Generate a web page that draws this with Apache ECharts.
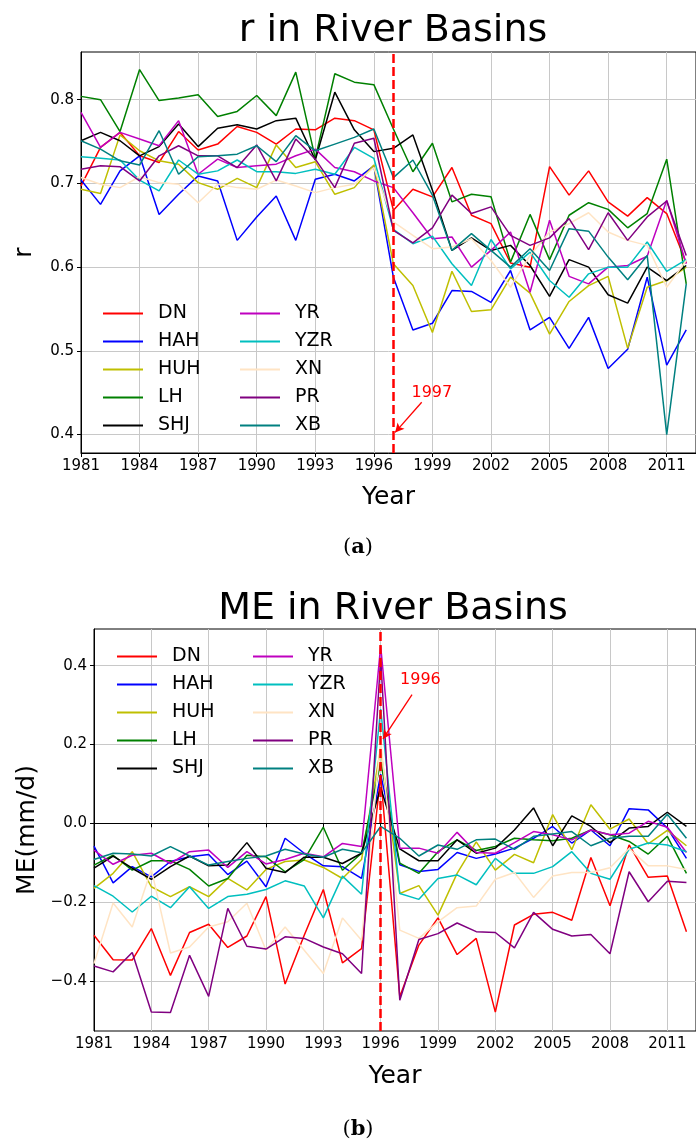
<!DOCTYPE html>
<html>
<head>
<meta charset="utf-8">
<script src="https://cdn.jsdelivr.net/npm/echarts@6/dist/echarts.min.js"></script>
<style>
html, body { margin: 0; padding: 0; background: #fff; }
#main { width: 696px; height: 1142px; }
</style>
</head>
<body>
<div id="main"></div>
<script>
// years and basins
const years = [1981, 1982, 1983, 1984, 1985, 1986, 1987, 1988, 1989, 1990, 1991, 1992, 1993, 1994, 1995, 1996,
  1997, 1998, 1999, 2000, 2001, 2002, 2003, 2004, 2005, 2006, 2007, 2008, 2009, 2010, 2011, 2012];
const xTicks = [1981, 1984, 1987, 1990, 1993, 1996, 1999, 2002, 2005, 2008, 2011];
const rTicks = [0.4, 0.5, 0.6, 0.7, 0.8];
const meTicks = [-0.4, -0.2, 0.0, 0.2, 0.4];
const basins = ['DN', 'HAH', 'HUH', 'LH', 'SHJ', 'YR', 'YZR', 'XN', 'PR', 'XB'];
const colors = ['#ff0000', '#0000ff', '#bfbf00', '#008000', '#000000', '#bf00bf', '#00bfbf', '#ffe4c4', '#800080', '#008080'];

// (a) correlation r
const rDN  = [0.697, 0.743, 0.761, 0.733, 0.725, 0.762, 0.740, 0.747, 0.768, 0.761, 0.747, 0.765, 0.764, 0.778, 0.775, 0.764, 0.668, 0.693, 0.684, 0.719, 0.662, 0.652, 0.605, 0.600, 0.720, 0.686, 0.715, 0.678, 0.661, 0.683, 0.664, 0.605];
const rHAH = [0.704, 0.675, 0.715, 0.733, 0.663, 0.687, 0.709, 0.703, 0.632, 0.660, 0.685, 0.632, 0.705, 0.711, 0.703, 0.721, 0.588, 0.525, 0.533, 0.572, 0.571, 0.558, 0.596, 0.525, 0.540, 0.503, 0.540, 0.479, 0.502, 0.588, 0.483, 0.525];
const rHUH = [0.693, 0.688, 0.758, 0.739, 0.727, 0.723, 0.701, 0.693, 0.706, 0.695, 0.746, 0.719, 0.726, 0.687, 0.695, 0.722, 0.604, 0.578, 0.522, 0.595, 0.547, 0.549, 0.588, 0.569, 0.520, 0.559, 0.578, 0.589, 0.503, 0.576, 0.584, 0.600];
const rLH  = [0.804, 0.800, 0.762, 0.836, 0.799, 0.802, 0.806, 0.780, 0.786, 0.805, 0.781, 0.833, 0.730, 0.831, 0.821, 0.818, 0.765, 0.714, 0.748, 0.678, 0.687, 0.684, 0.606, 0.663, 0.609, 0.662, 0.677, 0.669, 0.647, 0.664, 0.729, 0.580];
const rSHJ = [0.751, 0.761, 0.751, 0.733, 0.744, 0.771, 0.744, 0.766, 0.770, 0.765, 0.775, 0.778, 0.728, 0.809, 0.764, 0.738, 0.742, 0.758, 0.692, 0.620, 0.635, 0.620, 0.626, 0.602, 0.565, 0.609, 0.600, 0.567, 0.557, 0.600, 0.584, 0.602];
const rYR  = [0.785, 0.743, 0.761, 0.753, 0.745, 0.775, 0.711, 0.729, 0.719, 0.721, 0.723, 0.733, 0.741, 0.719, 0.714, 0.703, 0.695, 0.665, 0.634, 0.636, 0.600, 0.620, 0.642, 0.570, 0.656, 0.589, 0.580, 0.600, 0.602, 0.613, 0.680, 0.604];
const rYZR = [0.732, 0.730, 0.728, 0.704, 0.691, 0.728, 0.711, 0.715, 0.728, 0.714, 0.714, 0.712, 0.717, 0.711, 0.743, 0.730, 0.645, 0.628, 0.637, 0.604, 0.578, 0.633, 0.598, 0.618, 0.584, 0.564, 0.592, 0.600, 0.600, 0.630, 0.595, 0.609];
const rXN  = [0.707, 0.699, 0.695, 0.708, 0.701, 0.699, 0.677, 0.699, 0.695, 0.693, 0.704, 0.697, 0.689, 0.695, 0.699, 0.719, 0.654, 0.638, 0.622, 0.624, 0.634, 0.608, 0.576, 0.614, 0.642, 0.652, 0.665, 0.642, 0.632, 0.626, 0.576, 0.608];
const rPR  = [0.717, 0.721, 0.720, 0.703, 0.733, 0.745, 0.733, 0.733, 0.719, 0.746, 0.703, 0.753, 0.729, 0.695, 0.748, 0.754, 0.644, 0.629, 0.647, 0.686, 0.664, 0.672, 0.638, 0.626, 0.635, 0.658, 0.621, 0.665, 0.632, 0.660, 0.679, 0.614];
const rXB  = [0.751, 0.741, 0.727, 0.722, 0.763, 0.711, 0.732, 0.733, 0.735, 0.745, 0.726, 0.757, 0.739, 0.747, 0.755, 0.765, 0.707, 0.728, 0.686, 0.620, 0.640, 0.620, 0.600, 0.622, 0.596, 0.646, 0.643, 0.612, 0.585, 0.614, 0.400, 0.580];

// (b) mean error ME (mm/d)
const meDN  = [-0.284, -0.346, -0.347, -0.267, -0.386, -0.277, -0.256, -0.315, -0.286, -0.186, -0.408, -0.284, -0.168, -0.354, -0.318, 0.120, -0.440, -0.309, -0.240, -0.333, -0.292, -0.479, -0.258, -0.231, -0.226, -0.246, -0.087, -0.209, -0.055, -0.137, -0.134, -0.275];
const meHAH = [-0.058, -0.151, -0.110, -0.136, -0.097, -0.085, -0.079, -0.130, -0.096, -0.161, -0.038, -0.076, -0.108, -0.110, -0.140, 0.125, -0.105, -0.122, -0.117, -0.074, -0.089, -0.078, -0.063, -0.038, -0.008, -0.050, -0.017, -0.057, 0.037, 0.034, -0.012, -0.089];
const meHUH = [-0.165, -0.127, -0.072, -0.161, -0.186, -0.161, -0.186, -0.140, -0.169, -0.117, -0.097, -0.093, -0.112, -0.140, -0.092, 0.190, -0.178, -0.158, -0.233, -0.127, -0.047, -0.119, -0.079, -0.100, 0.022, -0.067, 0.047, -0.015, 0.011, -0.052, -0.018, -0.057];
const meLH  = [-0.106, -0.081, -0.119, -0.095, -0.095, -0.117, -0.159, -0.140, -0.081, -0.085, -0.123, -0.092, -0.010, -0.119, -0.076, 0.155, -0.101, -0.127, -0.072, -0.042, -0.069, -0.059, -0.038, -0.042, -0.044, -0.038, -0.017, -0.029, -0.046, -0.078, -0.033, -0.127];
const meSHJ = [-0.114, -0.083, -0.114, -0.142, -0.110, -0.083, -0.108, -0.106, -0.049, -0.114, -0.125, -0.086, -0.086, -0.102, -0.076, 0.090, -0.065, -0.095, -0.095, -0.042, -0.076, -0.063, -0.017, 0.039, -0.057, 0.019, -0.008, -0.049, -0.012, -0.008, 0.028, -0.008];
const meYR  = [-0.068, -0.104, -0.081, -0.076, -0.102, -0.072, -0.068, -0.112, -0.072, -0.103, -0.092, -0.076, -0.085, -0.051, -0.059, 0.450, -0.063, -0.063, -0.076, -0.023, -0.074, -0.076, -0.049, -0.021, -0.029, -0.042, -0.017, -0.029, -0.025, 0.005, -0.010, -0.074];
const meYZR = [-0.158, -0.185, -0.225, -0.185, -0.214, -0.161, -0.216, -0.186, -0.180, -0.168, -0.146, -0.159, -0.240, -0.134, -0.180, 0.290, -0.178, -0.193, -0.140, -0.131, -0.156, -0.089, -0.127, -0.127, -0.110, -0.072, -0.127, -0.142, -0.066, -0.050, -0.055, -0.072];
const meXN  = [-0.356, -0.202, -0.263, -0.117, -0.329, -0.314, -0.263, -0.250, -0.203, -0.322, -0.263, -0.322, -0.381, -0.240, -0.297, 0.210, -0.271, -0.292, -0.250, -0.214, -0.210, -0.142, -0.125, -0.188, -0.134, -0.125, -0.125, -0.113, -0.064, -0.108, -0.108, -0.117];
const mePR  = [-0.362, -0.377, -0.328, -0.479, -0.480, -0.335, -0.439, -0.216, -0.312, -0.319, -0.288, -0.292, -0.314, -0.331, -0.381, 0.420, -0.449, -0.295, -0.280, -0.253, -0.275, -0.277, -0.316, -0.226, -0.269, -0.286, -0.282, -0.331, -0.123, -0.199, -0.147, -0.150];
const meXB  = [-0.092, -0.076, -0.078, -0.083, -0.059, -0.083, -0.106, -0.097, -0.089, -0.083, -0.066, -0.078, -0.086, -0.066, -0.075, -0.008, -0.038, -0.083, -0.055, -0.066, -0.042, -0.040, -0.066, -0.033, -0.027, -0.021, -0.057, -0.038, -0.033, -0.033, 0.023, -0.038];

const rData = [rDN, rHAH, rHUH, rLH, rSHJ, rYR, rYZR, rXN, rPR, rXB];
const meData = [meDN, meHAH, meHUH, meLH, meSHJ, meYR, meYZR, meXN, mePR, meXB];

const FONT = 'DejaVu Sans';
const fmt = v => (v < 0 ? '\u2212' : '') + Math.abs(v).toFixed(1);

function lineSeries(arrs, idx) {
  return arrs.map((arr, i) => ({
    name: basins[i],
    type: 'line',
    xAxisIndex: idx,
    yAxisIndex: idx,
    data: years.map((y, k) => [y, arr[k]]),
    symbol: 'none',
    color: colors[i],
    lineStyle: { width: 1.5, color: colors[i] },
    emphasis: { disabled: true },
    silent: true,
    animation: false
  }));
}

// vertical dashed line + annotation arrow
function markSeries(idx, year, from, to, label) {
  return {
    type: 'line',
    xAxisIndex: idx,
    yAxisIndex: idx,
    data: [],
    silent: true,
    animation: false,
    z: 5,
    markLine: {
      silent: true,
      animation: false,
      symbol: ['none', 'none'],
      label: { show: false },
      data: [
        { xAxis: year, lineStyle: { color: '#ff0000', width: 2.5, type: [9, 4] } },
        [
          { coord: from, symbol: 'none', lineStyle: { color: '#ff0000', width: 1.3, type: 'solid' } },
          { coord: to, symbol: 'arrow', symbolSize: [7, 9] }
        ]
      ]
    },
    markPoint: {
      silent: true,
      animation: false,
      symbol: 'circle',
      symbolSize: 0,
      data: [{ coord: label.coord, value: label.text }],
      label: { show: true, position: 'inside', formatter: label.text, color: '#ff0000', fontFamily: FONT, fontSize: 16 }
    }
  };
}

function legendBlock(names, left, top) {
  return {
    orient: 'vertical',
    left: left,
    top: top,
    data: names,
    icon: 'rect',
    itemWidth: 40,
    itemHeight: 2,
    itemGap: 9,
    selectedMode: false,
    textStyle: { fontFamily: FONT, fontSize: 19, color: '#000', padding: [0, 0, 0, 10] }
  };
}

function xAxisCfg(idx, nameGap) {
  return {
    type: 'value',
    gridIndex: idx,
    min: 1981,
    max: 2012.5,
    name: 'Year',
    nameLocation: 'middle',
    nameGap: nameGap,
    nameTextStyle: { fontFamily: FONT, fontSize: 25, color: '#000' },
    axisLine: { show: true, lineStyle: { color: '#000', width: 1 } },
    axisTick: { show: true, length: 4, customValues: xTicks, lineStyle: { color: '#000' } },
    axisLabel: { customValues: xTicks, margin: 6, fontFamily: FONT, fontSize: 15, color: '#000', formatter: v => String(v) },
    splitLine: { show: true, lineStyle: { color: '#c8c8c8', width: 1 } }
  };
}

function yAxisCfg(idx, min, max, ticks, name, nameGap) {
  return {
    type: 'value',
    gridIndex: idx,
    min: min,
    max: max,
    name: name,
    nameLocation: 'middle',
    nameGap: nameGap,
    nameTextStyle: { fontFamily: FONT, fontSize: 25, color: '#000' },
    axisLine: { show: true, lineStyle: { color: '#000', width: 1 } },
    axisTick: { show: true, length: 4, customValues: ticks, lineStyle: { color: '#000' } },
    axisLabel: { customValues: ticks, margin: 7, fontFamily: FONT, fontSize: 15, color: '#000', formatter: fmt },
    splitLine: { show: true, lineStyle: { color: '#c8c8c8', width: 1 } }
  };
}

const chart = echarts.init(document.getElementById('main'));
chart.setOption({
  animation: false,
  backgroundColor: '#fff',
  grid: [
    { left: 81, top: 52, width: 616, height: 401, show: true, borderColor: '#000', borderWidth: 1, backgroundColor: 'transparent' },
    { left: 94, top: 629, width: 602, height: 402, show: true, borderColor: '#000', borderWidth: 1, backgroundColor: 'transparent' }
  ],
  xAxis: [xAxisCfg(0, 32), xAxisCfg(1, 33)],
  yAxis: [
    yAxisCfg(0, 0.378, 0.857, rTicks, 'r', 44),
    yAxisCfg(1, -0.527, 0.493, meTicks, 'ME(mm/d)', 52)
  ],
  legend: [
    legendBlock(basins.slice(0, 5), 98, 299),
    legendBlock(basins.slice(5), 235, 299),
    legendBlock(basins.slice(0, 5), 112, 642),
    legendBlock(basins.slice(5), 248, 642)
  ],
  graphic: [
    { type: 'text', style: { text: 'r in River Basins', x: 393, y: 31, textAlign: 'center', textVerticalAlign: 'middle', font: '38px "DejaVu Sans"', fill: '#000' } },
    { type: 'text', style: { text: 'ME in River Basins', x: 393, y: 609, textAlign: 'center', textVerticalAlign: 'middle', font: '38px "DejaVu Sans"', fill: '#000' } },
    { type: 'text', style: { text: '{n|(}{b|a}{n|)}', x: 358, y: 548, textAlign: 'center', textVerticalAlign: 'middle', rich: { n: { font: '21px "DejaVu Serif"', fill: '#000' }, b: { font: 'bold 21px "DejaVu Serif"', fill: '#000' } } } },
    { type: 'text', style: { text: '{n|(}{b|b}{n|)}', x: 358, y: 1130, textAlign: 'center', textVerticalAlign: 'middle', rich: { n: { font: '21px "DejaVu Serif"', fill: '#000' }, b: { font: 'bold 21px "DejaVu Serif"', fill: '#000' } } } }
  ],
  series: [
    ...lineSeries(rData, 0),
    markSeries(0, 1997, [1998.45, 0.4386], [1997.09, 0.4026], { coord: [1998.97, 0.450], text: '1997' }),
    ...lineSeries(meData, 1),
    markSeries(1, 1996, [1997.64, 0.3266], [1996.12, 0.214], { coord: [1998.08, 0.365], text: '1996' })
  ]
});
</script>
</body>
</html>
